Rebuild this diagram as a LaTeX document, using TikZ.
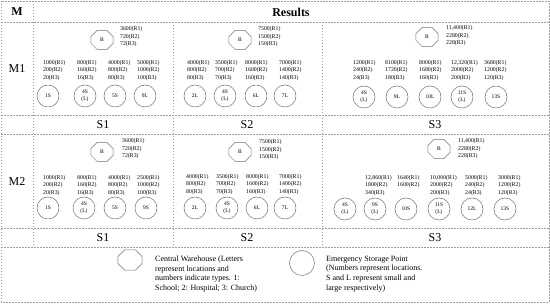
\documentclass[tikz,border=0pt]{standalone}
\usepackage{fontspec}
\setmainfont{Liberation Serif}
\usetikzlibrary{shapes.geometric}
\newcommand\octshape[6]{% name, position, width, height, chamfer, label
  \node[octtext, minimum width=#3, minimum height=#4] (#1) at (#2) {#6};
  \draw[octline] ([xshift=#5]#1.north west) -- ([xshift=-#5]#1.north east)
    -- ([yshift=-#5]#1.north east) -- ([yshift=#5]#1.south east)
    -- ([xshift=-#5]#1.south east) -- ([xshift=#5]#1.south west)
    -- ([yshift=#5]#1.south west) -- ([yshift=-#5]#1.north west) -- cycle;}
\begin{document}
\begin{tikzpicture}[x=1pt,y=-1pt,
 grid/.style={draw=gray!75, line width=0.5pt, dash pattern=on 1.5pt off 1.5pt},
 octtext/.style={rectangle, inner sep=0pt, font=\fontsize{5.5}{6.5}\selectfont},
 octline/.style={draw=gray!90!black, line width=0.5pt},
 stor/.style={circle, draw=gray!90!black, minimum size=22pt, inner sep=0pt, align=center, font=\fontsize{5.5}{7}\selectfont, line width=0.5pt},
 dat/.style={anchor=west, align=left, inner sep=0pt, font=\fontsize{5.8}{7.4}\selectfont},
 head/.style={font=\fontsize{12}{14}\selectfont\bfseries},
 lab/.style={font=\fontsize{12}{14}\selectfont},
 leg/.style={anchor=west, align=left, inner sep=0pt, font=\fontsize{8}{9.6}\selectfont}]
\useasboundingbox (0,0) rectangle (550,304);
% grid
\draw[grid] (1,1) rectangle (549,302);
\foreach \yy in {22,115,134,228,247} \draw[grid] (1,\yy) -- (549,\yy);
\draw[grid] (33,1) -- (33,247);
\draw[grid] (173,22) -- (173,247);
\draw[grid] (322,22) -- (322,247);
% headings
\node[head] (hM) at (17,12) {M};
\node[head] (hR) at (291,12) {Results};
\node[lab] (m1) at (17,69) {M1};
\node[lab] (m2) at (17,182) {M2};
\node[lab] (s1a) at (103,125) {S1};
\node[lab] (s2a) at (247,125) {S2};
\node[lab] (s3a) at (435,125) {S3};
\node[lab] (s1b) at (103,238) {S1};
\node[lab] (s2b) at (247,238) {S2};
\node[lab] (s3b) at (435,238) {S3};
% ---------- M1 S1
\octshape{a1b}{102,40}{22pt}{19pt}{6.5pt}{B}
\node[dat] (a1t) at (120,37) {3600(R1)\\720(R2)\\72(R3)};
\node[dat] (a1d1) at (43,70.5) {1000(R1)\\200(R2)\\20(R3)};
\node[dat] (a1d2) at (77,70.5) {800(R1)\\160(R2)\\16(R3)};
\node[dat] (a1d3) at (108,70.5) {4000(R1)\\800(R2)\\80(R3)};
\node[dat] (a1d4) at (137,70.5) {5000(R1)\\1000(R2)\\100(R3)};
\node[stor] (a1c1) at (48,96) {1S};
\node[stor] (a1c2) at (85,96) {4S\\(L)};
\node[stor] (a1c3) at (115,96) {5S};
\node[stor] (a1c4) at (145,96) {9L};
% ---------- M1 S2
\octshape{a2b}{240,40}{22pt}{19pt}{6.5pt}{B}
\node[dat] (a2t) at (258,37) {7500(R1)\\1500(R2)\\150(R3)};
\node[dat] (a2d1) at (187,70.5) {4000(R1)\\800(R2)\\80(R3)};
\node[dat] (a2d2) at (215,70.5) {3500(R1)\\700(R2)\\70(R3)};
\node[dat] (a2d3) at (245,70.5) {8000(R1)\\1600(R2)\\160(R3)};
\node[dat] (a2d4) at (279,70.5) {7000(R1)\\1400(R2)\\140(R3)};
\node[stor] (a2c1) at (195,96) {2L};
\node[stor] (a2c2) at (225,96) {4S\\(L)};
\node[stor] (a2c3) at (256,96) {6L};
\node[stor] (a2c4) at (285,96) {7L};
% ---------- M1 S3
\octshape{a3b}{427,37}{22pt}{19pt}{6.5pt}{B}
\node[dat] (a3t) at (446,36) {11,400(R1)\\2280(R2)\\228(R3)};
\node[dat] (a3d1) at (353,70.5) {1200(R1)\\240(R2)\\24(R3)};
\node[dat] (a3d2) at (385,70.5) {8100(R1)\\1720(R2)\\180(R3)};
\node[dat] (a3d3) at (419,70.5) {8000(R1)\\1680(R2)\\160(R3)};
\node[dat] (a3d4) at (451,70.5) {12,320(R1)\\2000(R2)\\200(R3)};
\node[dat] (a3d5) at (484,70.5) {3680(R1)\\1200(R2)\\120(R3)};
\node[stor] (a3c1) at (364,97) {4S\\(L)};
\node[stor] (a3c2) at (397,97) {9L};
\node[stor] (a3c3) at (430,97) {10L};
\node[stor] (a3c4) at (462,97) {11S\\(L)};
\node[stor] (a3c5) at (496,97) {13S};
% ---------- M2 S1
\octshape{b1b}{102,152}{22pt}{19pt}{6.5pt}{B}
\node[dat] (b1t) at (122,149) {3600(R1)\\720(R2)\\72(R3)};
\node[dat] (b1d1) at (43,185.5) {1000(R1)\\200(R2)\\20(R3)};
\node[dat] (b1d2) at (77,185.5) {800(R1)\\160(R2)\\16(R3)};
\node[dat] (b1d3) at (108,185.5) {4000(R1)\\800(R2)\\80(R3)};
\node[dat] (b1d4) at (137,185.5) {2500(R1)\\1000(R2)\\100(R3)};
\node[stor] (b1c1) at (48,208) {1S};
\node[stor] (b1c2) at (84,208) {4S\\(L)};
\node[stor] (b1c3) at (115,208) {5S};
\node[stor] (b1c4) at (146,208) {9S};
% ---------- M2 S2
\octshape{b2b}{240,152}{22pt}{19pt}{6.5pt}{B}
\node[dat] (b2t) at (259,150) {7500(R1)\\1500(R2)\\150(R3)};
\node[dat] (b2d1) at (186,184.5) {4000(R1)\\800(R2)\\80(R3)};
\node[dat] (b2d2) at (216,184.5) {3500(R1)\\700(R2)\\70(R3)};
\node[dat] (b2d3) at (246,184.5) {8000(R1)\\1600(R2)\\160(R3)};
\node[dat] (b2d4) at (279,184.5) {7000(R1)\\1400(R2)\\140(R3)};
\node[stor] (b2c1) at (195,208) {2L};
\node[stor] (b2c2) at (227,208) {4S\\(L)};
\node[stor] (b2c3) at (257,208) {6L};
\node[stor] (b2c4) at (285,208) {7L};
% ---------- M2 S3
\octshape{b3b}{439,149}{22pt}{19pt}{6.5pt}{B}
\node[dat] (b3t) at (458,149) {11,400(R1)\\2280(R2)\\228(R3)};
\node[dat] (b3d1) at (365,185.5) {12,860(R1)\\1800(R2)\\340(R3)};
\node[dat] (b3d2) at (397,181.8) {1640(R1)\\1600(R2)};
\node[dat] (b3d3) at (430,185.5) {10,000(R1)\\2000(R2)\\200(R3)};
\node[dat] (b3d4) at (465,185.5) {5000(R1)\\240(R2)\\24(R3)};
\node[dat] (b3d5) at (498,185.5) {3000(R1)\\1200(R2)\\120(R3)};
\node[stor] (b3c1) at (345,209) {4S\\(L)};
\node[stor] (b3c2) at (375,209) {9S\\(L)};
\node[stor] (b3c3) at (406,209) {10S};
\node[stor] (b3c4) at (439,209) {11S\\(L)};
\node[stor] (b3c5) at (472,209) {12L};
\node[stor] (b3c6) at (505,209) {13S};
% ---------- legend
\octshape{lgo}{130,260}{24pt}{20pt}{7pt}{}
\node[leg] (lgot) at (155,274) {Central Warehouse (Letters\\represent locations and\\numbers indicate types. 1:\\School; 2: Hospital; 3: Church)};
\node[stor, minimum size=25pt] (lgc) at (302,263) {};
\node[leg] (lgct) at (326,274) {Emergency Storage Point\\(Numbers represent locations.\\S and L represent small and\\large respectively)};
\end{tikzpicture}
\end{document}
